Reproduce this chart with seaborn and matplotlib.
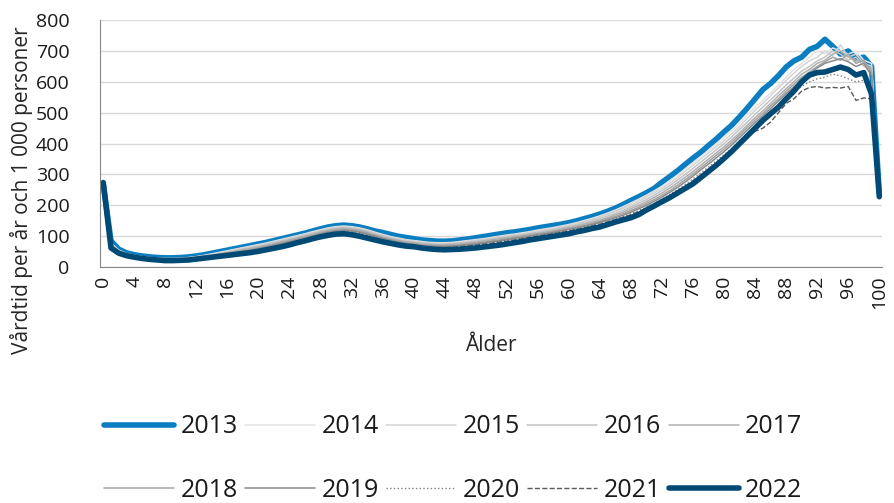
import pandas as pd
import matplotlib.pyplot as plt
import seaborn as sns
from matplotlib.ticker import FixedLocator

# Data
ages = list(range(101))

y2013 = [270, 85, 58, 46, 40, 36, 33, 31, 30, 30,
         31, 33, 36, 40, 45, 50, 55, 60, 65, 70,
         75, 80, 86, 92, 98, 104, 110, 117, 124, 130,
         134, 136, 134, 130, 124, 117, 112, 106, 100, 96,
         92, 88, 86, 84, 84, 85, 88, 91, 95, 99,
         103, 107, 111, 114, 118, 122, 127, 131, 135, 139,
         144, 150, 157, 164, 172, 181, 191, 203, 216, 228,
         241, 255, 275, 293, 312, 333, 353, 372, 394, 415,
         438, 460, 487, 515, 545, 575, 595, 620, 648, 668,
         680, 705, 715, 738, 715, 690, 700, 675, 680, 650,
         240]
y2014 = [268, 78, 55, 44, 38, 34, 31, 29, 28, 28,
         29, 31, 34, 38, 43, 48, 53, 58, 63, 68,
         73, 78, 84, 90, 96, 102, 108, 115, 121, 127,
         131, 133, 131, 127, 121, 113, 106, 99, 94, 89,
         86, 83, 80, 79, 79, 80, 83, 86, 89, 92,
         96, 100, 104, 107, 111, 115, 120, 124, 128, 133,
         138, 144, 151, 158, 166, 175, 185, 196, 208, 220,
         233, 247, 262, 280, 298, 318, 338, 358, 378, 399,
         420, 442, 466, 493, 518, 540, 565, 590, 615, 640,
         660, 680, 700, 690, 710, 700, 690, 700, 670, 660,
         250]
y2015 = [270, 76, 54, 43, 37, 33, 30, 28, 27, 27,
         28, 30, 33, 37, 41, 46, 51, 56, 61, 66,
         71, 76, 82, 88, 94, 100, 106, 112, 119, 125,
         129, 131, 129, 125, 119, 111, 104, 97, 92, 87,
         84, 81, 78, 77, 77, 78, 81, 84, 87, 90,
         94, 98, 101, 105, 108, 112, 117, 121, 125, 130,
         135, 141, 147, 154, 162, 170, 180, 190, 201, 213,
         226, 240, 255, 272, 290, 310, 330, 350, 370, 390,
         410, 432, 456, 482, 508, 530, 555, 580, 605, 628,
         650, 668, 680, 700, 685, 720, 680, 690, 660, 650,
         245]
y2016 = [272, 74, 52, 42, 36, 32, 29, 27, 26, 26,
         27, 29, 32, 35, 39, 44, 49, 54, 58, 63,
         68, 73, 79, 85, 91, 97, 103, 109, 116, 122,
         126, 128, 126, 122, 116, 108, 101, 94, 89, 84,
         81, 78, 75, 74, 74, 75, 78, 81, 84, 87,
         91, 95, 98, 102, 105, 109, 113, 118, 122, 127,
         132, 137, 143, 150, 157, 165, 174, 184, 195, 207,
         219, 233, 248, 264, 282, 300, 320, 340, 360, 380,
         400, 422, 446, 470, 495, 518, 542, 565, 590, 612,
         635, 650, 668, 680, 700, 690, 670, 680, 650, 640,
         240]
y2017 = [270, 72, 51, 41, 35, 31, 28, 26, 25, 25,
         26, 28, 31, 34, 38, 42, 47, 51, 56, 60,
         65, 70, 76, 82, 88, 94, 100, 106, 113, 119,
         123, 125, 123, 119, 113, 105, 98, 92, 87, 82,
         79, 75, 73, 72, 72, 73, 75, 78, 81, 84,
         88, 92, 95, 99, 102, 106, 110, 114, 118, 123,
         128, 133, 139, 145, 152, 160, 169, 178, 189, 200,
         212, 226, 240, 256, 273, 291, 310, 330, 350, 370,
         390, 412, 435, 460, 484, 506, 530, 555, 578, 600,
         625, 640, 660, 670, 690, 700, 680, 670, 665, 640,
         238]
y2018 = [271, 70, 50, 40, 34, 30, 27, 25, 24, 24,
         25, 27, 30, 33, 37, 41, 45, 49, 53, 57,
         62, 67, 73, 79, 85, 91, 97, 103, 110, 116,
         120, 122, 120, 116, 110, 102, 95, 89, 84, 79,
         76, 72, 70, 69, 69, 70, 72, 75, 78, 81,
         85, 88, 92, 96, 99, 103, 107, 111, 115, 120,
         125, 130, 135, 141, 148, 156, 164, 173, 183, 194,
         206, 219, 233, 248, 265, 283, 302, 322, 342, 362,
         382, 404, 428, 452, 476, 498, 522, 545, 570, 592,
         615, 632, 650, 665, 680, 670, 690, 660, 670, 630,
         235]
y2019 = [273, 68, 49, 39, 33, 29, 26, 24, 23, 23,
         24, 26, 29, 32, 35, 39, 43, 47, 51, 55,
         60, 65, 70, 76, 82, 88, 94, 100, 107, 113,
         117, 119, 117, 113, 107, 100, 93, 87, 81, 77,
         73, 70, 68, 67, 67, 68, 70, 72, 75, 78,
         82, 85, 89, 93, 96, 100, 104, 108, 112, 117,
         122, 127, 132, 138, 145, 152, 160, 168, 178, 189,
         200, 213, 227, 242, 258, 276, 295, 315, 334, 354,
         374, 396, 420, 444, 468, 490, 514, 538, 562, 584,
         605, 625, 645, 660, 668, 675, 665, 650, 660, 620,
         232]
y2020 = [270, 66, 48, 38, 32, 28, 25, 23, 22, 22,
         23, 25, 28, 31, 34, 37, 41, 45, 49, 53,
         57, 62, 67, 73, 79, 85, 91, 97, 104, 110,
         114, 116, 114, 110, 104, 97, 90, 84, 79, 75,
         71, 68, 66, 65, 65, 66, 68, 70, 73, 76,
         79, 83, 87, 90, 94, 98, 102, 106, 110, 114,
         119, 124, 129, 135, 141, 148, 156, 164, 173, 183,
         194, 206, 220, 235, 251, 268, 286, 305, 324, 344,
         364, 385, 408, 432, 455, 478, 500, 522, 548, 570,
         585, 600, 610, 615, 625, 620, 610, 600, 605, 580,
         230]
y2021 = [268, 64, 47, 37, 31, 27, 24, 22, 21, 21,
         22, 24, 27, 30, 33, 36, 40, 43, 47, 51,
         55, 60, 65, 71, 77, 83, 89, 95, 101, 107,
         111, 113, 111, 107, 101, 94, 88, 82, 77, 73,
         69, 66, 64, 63, 63, 64, 66, 68, 71, 74,
         77, 81, 84, 88, 92, 96, 100, 104, 108, 112,
         117, 122, 127, 133, 139, 146, 153, 161, 170, 180,
         191, 203, 216, 230, 246, 262, 280, 298, 305, 325,
         345, 370, 395, 420, 440, 450, 470, 500, 530, 545,
         570, 582, 585, 580, 582, 580, 585, 540, 548, 545,
         228]
y2022 = [274, 62, 45, 37, 32, 28, 25, 23, 21, 21,
         22, 23, 26, 29, 32, 35, 38, 41, 44, 47,
         51, 56, 61, 66, 72, 79, 85, 92, 98, 103,
         107, 108, 105, 100, 94, 88, 82, 77, 72, 68,
         66, 62, 59, 57, 56, 57, 58, 60, 62, 65,
         68, 71, 75, 79, 83, 88, 92, 96, 100, 104,
         108, 114, 119, 125, 130, 138, 146, 153, 160, 170,
         185, 198, 212, 225, 240, 255, 270, 290, 310, 330,
         352, 375, 400, 425, 450, 475, 497, 518, 545, 570,
         600, 622, 630, 632, 640, 648, 640, 622, 630, 560,
         228]

years = ["2013", "2014", "2015", "2016", "2017",
         "2018", "2019", "2020", "2021", "2022"]
series = [y2013, y2014, y2015, y2016, y2017,
          y2018, y2019, y2020, y2021, y2022]

# style per year
colors = ["#0b7dc1", "#e3e3e3", "#d4d4d4", "#c4c4c4", "#b0b0b0",
          "#a3a3a3", "#8a8a8a", "#7f7f7f", "#595959", "#004a75"]
widths = [4, 1.1, 1.1, 1.1, 1.1, 1.1, 1.1, 1.0, 1.0, 4]
styles = ["-", "-", "-", "-", "-", "-", "-", ":", "--", "-"]

sns.set_style("white")
plt.rcParams["font.family"] = ["Open Sans", "DejaVu Sans"]
plt.rcParams["text.color"] = "#1a1a1a"

fig = plt.figure(figsize=(8.94, 5.03), dpi=100)
ax = fig.add_axes([0.112, 0.469, 0.875, 0.491])

for yr, vals, c, lw, ls in zip(years, series, colors, widths, styles):
    df = pd.DataFrame({"Ålder": ages, "Vårdtid": vals})
    sns.lineplot(data=df, x="Ålder", y="Vårdtid", ax=ax, color=c, linewidth=lw,
                 linestyle=ls, label=yr, solid_capstyle="round",
                 solid_joinstyle="round")

ax.set_xlim(-0.4, 100.4)
ax.set_ylim(0, 800)
ax.set_yticks(range(0, 801, 100))
ax.set_xticks(range(0, 101, 4))
ax.xaxis.set_minor_locator(FixedLocator(range(0, 101, 5)))
ax.tick_params(axis="x", which="major", length=0, labelsize=14, rotation=90,
               labelcolor="#1a1a1a", pad=6)
ax.tick_params(axis="x", which="minor", length=6, width=1, color="#868686",
               direction="out")
ax.tick_params(axis="y", length=0, labelsize=14, labelcolor="#1a1a1a", pad=22)
ax.grid(axis="y", color="#d9d9d9", linewidth=1)
ax.grid(axis="x", visible=False)
for s in ["top", "right"]:
    ax.spines[s].set_visible(False)
ax.spines["left"].set_color("#868686")
ax.spines["bottom"].set_color("#868686")

ax.set_xlabel("Ålder", fontsize=15, labelpad=19)
ax.set_ylabel("Vårdtid per år och 1 000 personer", fontsize=15)
ax.yaxis.set_label_coords(-0.086, 0.31)

# legend in row order (2 rows x 5 columns)
handles, labels = ax.get_legend_handles_labels()
ax.get_legend().remove()
order = [0, 5, 1, 6, 2, 7, 3, 8, 4, 9]
fig.legend([handles[i] for i in order], [labels[i] for i in order],
           loc="lower center", bbox_to_anchor=(0.507, -0.045),
           ncol=5, frameon=False, fontsize=18, handlelength=2.8,
           handletextpad=0.25, columnspacing=0.3, labelspacing=1.55)

plt.savefig("out.png", dpi=100)
plt.close()
